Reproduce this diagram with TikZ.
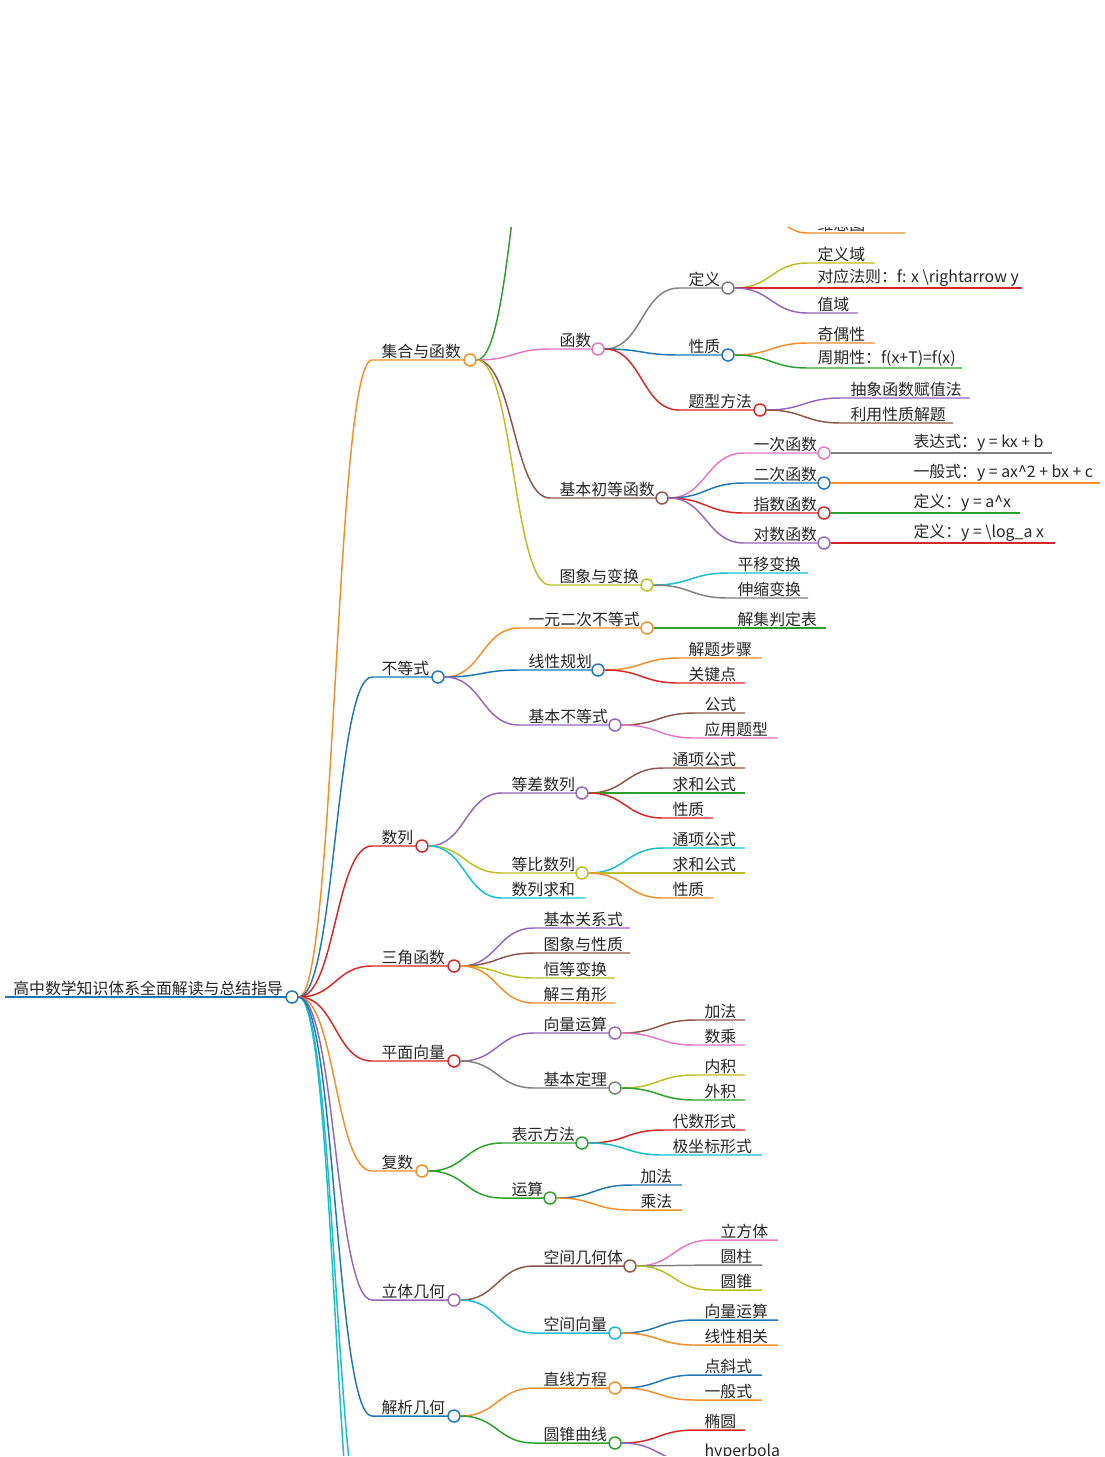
\documentclass[tikz,border=0pt]{standalone}
\usepackage{fontspec}
\setmainfont{Noto Sans CJK SC}
\usetikzlibrary{calc}
\definecolor{corange}{HTML}{F28E2B}
\definecolor{cblue}{HTML}{1F77B4}
\definecolor{cred}{HTML}{D62728}
\definecolor{cgreen}{HTML}{2CA02C}
\definecolor{cpurple}{HTML}{9467BD}
\definecolor{cbrown}{HTML}{8C564B}
\definecolor{cpink}{HTML}{E377C2}
\definecolor{cgray}{HTML}{7F7F7F}
\definecolor{colive}{HTML}{BCBD22}
\definecolor{ccyan}{HTML}{17BECF}
\tikzset{
  edge/.style={line width=1.1pt},
  lbl/.style={anchor=south west, inner sep=1pt, font=\fontsize{11.9}{13}\selectfont, text=black!85},
  dot/.style={circle, fill=white, line width=1.1pt, inner sep=0pt, minimum size=9pt}
}
% name, parent, x start, x end, y, colour, text
\newcommand{\mmitem}[7]{%
  \coordinate (#1-s) at (#3,#5);
  \coordinate (#1-e) at (#4,#5);
  \draw[edge,#6] let \p1=(#2-d.east), \p2=(#1-s) in
    (\p1) .. controls ({(\x1+\x2)/2},\y1) and ({(\x1+\x2)/2},\y2) .. (\p2) -- (#1-e);
  \node[lbl] (#1) at ([xshift=6pt]#1-s) {#7};}
\newcommand{\mmdot}[2]{\node[dot,draw=#2] (#1-d) at (#1-e) {};}

\begin{document}
\begin{tikzpicture}[x=0.75pt,y=-0.75pt]
\useasboundingbox (0,0) rectangle (1105,1457);
\clip (0,227) rectangle (1105,1455);

% root
\coordinate (root-s) at (5,997);
\coordinate (root-e) at (292,997);
\draw[cblue, line width=2.2pt] (root-s) -- (root-e);
\node[lbl] (root) at ([xshift=5pt]root-s) {高中数学知识体系全面解读与总结指导};
\node[dot,draw=cblue] (root-d) at (root-e) {};

% branches leaving the page
\mmitem{more1}{root}{372}{450}{1560}{ccyan}{}
\mmitem{more2}{root}{372}{450}{1640}{ccyan}{}

% 集合与函数
\mmitem{jhhs}{root}{372}{470}{360}{corange}{集合与函数} \mmdot{jhhs}{corange}
\mmitem{jihe}{jhhs}{550}{620}{60}{cgreen}{} \mmdot{jihe}{cgreen}
\mmitem{jhbs}{jihe}{690}{760}{220}{ccyan}{} \mmdot{jhbs}{ccyan}
\mmitem{venn}{jhbs}{808}{905}{233}{corange}{维恩图}
\mmitem{hs}{jhhs}{550}{598}{349}{cpink}{函数} \mmdot{hs}{cpink}
\mmitem{dy}{hs}{679}{728}{288}{cgray}{定义} \mmdot{dy}{cgray}
\mmitem{dyy}{dy}{808}{875}{263}{colive}{定义域}
\mmitem{dyfz}{dy}{808}{1022}{288}{cred}{对应法则：f: x \textbackslash rightarrow y}
\mmitem{zy}{dy}{808}{858}{313}{cpurple}{值域}
\mmitem{xz}{hs}{679}{728}{355}{cblue}{性质} \mmdot{xz}{cblue}
\mmitem{joux}{xz}{808}{875}{343}{corange}{奇偶性}
\mmitem{zqx}{xz}{808}{962}{368}{cgreen}{周期性：f(x+T)=f(x)}
\mmitem{tx}{hs}{679}{760}{410}{cred}{题型方法} \mmdot{tx}{cred}
\mmitem{fz}{tx}{841}{970}{398}{cpurple}{抽象函数赋值法}
\mmitem{lyxz}{tx}{841}{953}{423}{cbrown}{利用性质解题}
\mmitem{jbhs}{jhhs}{550}{662}{498}{cbrown}{基本初等函数} \mmdot{jbhs}{cbrown}
\mmitem{yc}{jbhs}{744}{824}{453}{cpink}{一次函数} \mmdot{yc}{cpink}
\mmitem{ycb}{yc}{904}{1052}{453}{cgray}{表达式：y = kx + b}
\mmitem{ec}{jbhs}{744}{824}{483}{cblue}{二次函数} \mmdot{ec}{cblue}
\mmitem{ecb}{ec}{904}{1100}{483}{corange}{一般式：y = ax\textasciicircum 2 + bx + c}
\mmitem{zs}{jbhs}{744}{824}{513}{cred}{指数函数} \mmdot{zs}{cred}
\mmitem{zsb}{zs}{904}{1020}{513}{cgreen}{定义：y = a\textasciicircum x}
\mmitem{ds}{jbhs}{744}{824}{543}{cpurple}{对数函数} \mmdot{ds}{cpurple}
\mmitem{dsb}{ds}{904}{1055}{543}{cred}{定义：y = \textbackslash log\_a x}
\mmitem{txbh}{jhhs}{550}{647}{585}{colive}{图象与变换} \mmdot{txbh}{colive}
\mmitem{py}{txbh}{728}{808}{573}{ccyan}{平移变换}
\mmitem{sf}{txbh}{728}{808}{598}{cgray}{伸缩变换}

% 不等式
\mmitem{bds}{root}{372}{438}{677}{cblue}{不等式} \mmdot{bds}{cblue}
\mmitem{yyec}{bds}{519}{647}{628}{corange}{一元二次不等式} \mmdot{yyec}{corange}
\mmitem{jjpd}{yyec}{728}{826}{628}{cgreen}{解集判定表}
\mmitem{xxgh}{bds}{519}{598}{670}{cblue}{线性规划} \mmdot{xxgh}{cblue}
\mmitem{jtbz}{xxgh}{679}{762}{658}{corange}{解题步骤}
\mmitem{gjd}{xxgh}{679}{745}{683}{cred}{关键点}
\mmitem{jbbds}{bds}{519}{615}{725}{cpurple}{基本不等式} \mmdot{jbbds}{cpurple}
\mmitem{gs}{jbbds}{695}{745}{713}{cbrown}{公式}
\mmitem{yytx}{jbbds}{695}{778}{738}{cpink}{应用题型}

% 数列
\mmitem{sl}{root}{372}{422}{846}{cred}{数列} \mmdot{sl}{cred}
\mmitem{dc}{sl}{502}{582}{793}{cpurple}{等差数列} \mmdot{dc}{cpurple}
\mmitem{dcth}{dc}{663}{745}{768}{cbrown}{通项公式}
\mmitem{dcqh}{dc}{663}{745}{793}{cgreen}{求和公式}
\mmitem{dcxz}{dc}{663}{713}{818}{cred}{性质}
\mmitem{db}{sl}{502}{582}{873}{colive}{等比数列} \mmdot{db}{colive}
\mmitem{dbth}{db}{663}{745}{848}{ccyan}{通项公式}
\mmitem{dbqh}{db}{663}{745}{873}{colive}{求和公式}
\mmitem{dbxz}{db}{663}{713}{898}{corange}{性质}
\mmitem{slqh}{sl}{502}{585}{898}{ccyan}{数列求和}

% 三角函数
\mmitem{sj}{root}{372}{454}{966}{cred}{三角函数} \mmdot{sj}{cred}
\mmitem{gxs}{sj}{534}{630}{928}{cpurple}{基本关系式}
\mmitem{sjtx}{sj}{534}{630}{953}{cbrown}{图象与性质}
\mmitem{hdbh}{sj}{534}{615}{978}{colive}{恒等变换}
\mmitem{jsjx}{sj}{534}{615}{1003}{corange}{解三角形}

% 平面向量
\mmitem{pm}{root}{372}{454}{1061}{cred}{平面向量} \mmdot{pm}{cred}
\mmitem{xlys}{pm}{534}{615}{1033}{cpurple}{向量运算} \mmdot{xlys}{cpurple}
\mmitem{jf}{xlys}{695}{745}{1020}{cbrown}{加法}
\mmitem{sc}{xlys}{695}{745}{1045}{cpink}{数乘}
\mmitem{jbdl}{pm}{534}{615}{1088}{cgray}{基本定理} \mmdot{jbdl}{cgray}
\mmitem{nj}{jbdl}{695}{745}{1075}{colive}{内积}
\mmitem{wj}{jbdl}{695}{745}{1100}{cgreen}{外积}

% 复数
\mmitem{fs}{root}{372}{422}{1171}{corange}{复数} \mmdot{fs}{corange}
\mmitem{bsff}{fs}{502}{582}{1143}{cgreen}{表示方法} \mmdot{bsff}{cgreen}
\mmitem{dsxs}{bsff}{663}{745}{1130}{cred}{代数形式}
\mmitem{jzb}{bsff}{663}{762}{1155}{ccyan}{极坐标形式}
\mmitem{ys}{fs}{502}{550}{1198}{cgreen}{运算} \mmdot{ys}{cgreen}
\mmitem{fsjf}{ys}{631}{682}{1185}{cblue}{加法}
\mmitem{fscf}{ys}{631}{682}{1210}{corange}{乘法}

% 立体几何
\mmitem{lt}{root}{372}{454}{1300}{cpurple}{立体几何} \mmdot{lt}{cpurple}
\mmitem{kjt}{lt}{534}{630}{1266}{cbrown}{空间几何体} \mmdot{kjt}{cbrown}
\mmitem{lft}{kjt}{711}{778}{1240}{cpink}{立方体}
\mmitem{yz}{kjt}{711}{762}{1265}{cgray}{圆柱}
\mmitem{yzh}{kjt}{711}{762}{1290}{colive}{圆锥}
\mmitem{kjxl}{lt}{534}{615}{1333}{ccyan}{空间向量} \mmdot{kjxl}{ccyan}
\mmitem{kjys}{kjxl}{695}{778}{1320}{cblue}{向量运算}
\mmitem{xxxg}{kjxl}{695}{778}{1345}{corange}{线性相关}

% 解析几何
\mmitem{jx}{root}{372}{454}{1416}{cblue}{解析几何} \mmdot{jx}{cblue}
\mmitem{zxfc}{jx}{534}{615}{1388}{corange}{直线方程} \mmdot{zxfc}{corange}
\mmitem{dxs}{zxfc}{695}{762}{1375}{cblue}{点斜式}
\mmitem{ybs}{zxfc}{695}{762}{1400}{corange}{一般式}
\mmitem{yzqx}{jx}{534}{615}{1443}{cgreen}{圆锥曲线} \mmdot{yzqx}{cgreen}
\mmitem{ty}{yzqx}{695}{745}{1430}{cred}{椭圆}
\mmitem{hyp}{yzqx}{695}{790}{1462}{cpurple}{hyperbola}
\end{tikzpicture}
\end{document}
